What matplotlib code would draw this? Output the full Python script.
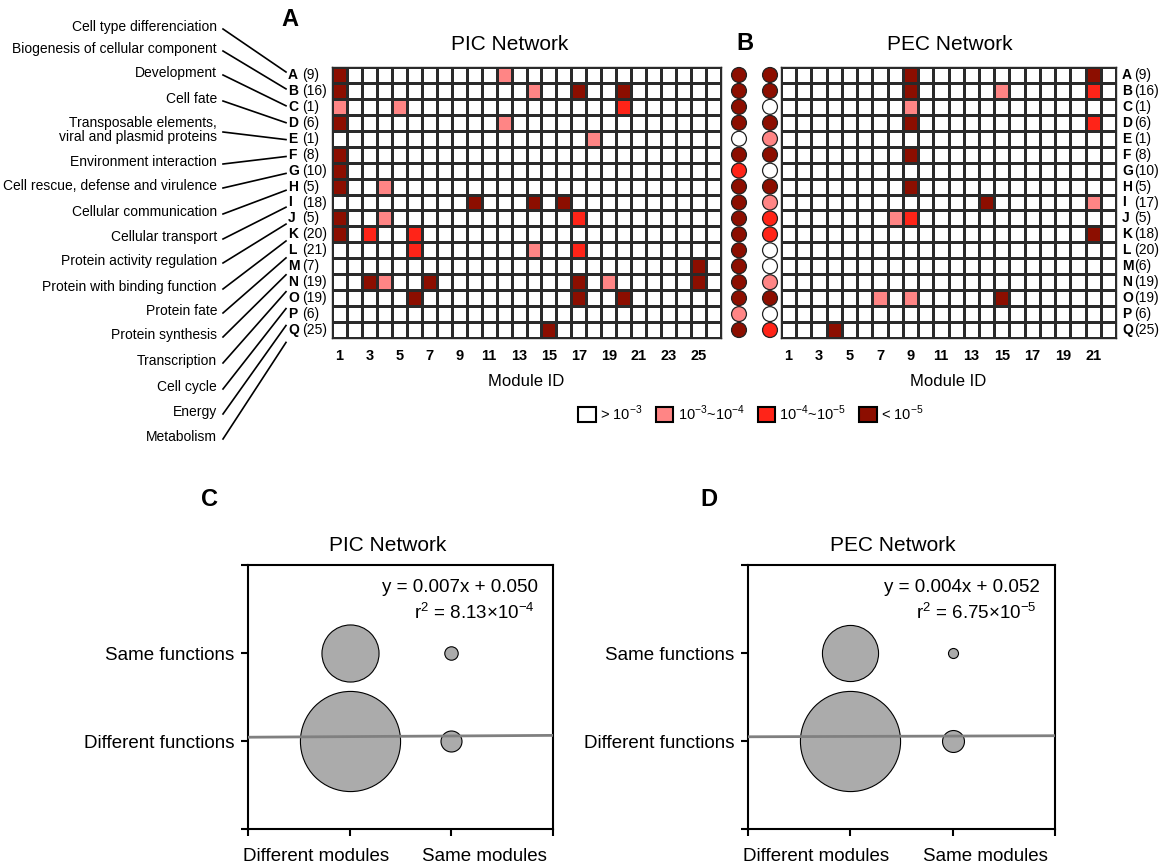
import numpy as np
import matplotlib
matplotlib.use("Agg")
import matplotlib.pyplot as plt
from matplotlib.colors import ListedColormap, BoundaryNorm
from matplotlib.patches import Patch
from matplotlib import font_manager

plt.rcParams['font.family'] = ['Liberation Sans', 'DejaVu Sans']
plt.rcParams['mathtext.fontset'] = 'custom'
plt.rcParams['mathtext.rm'] = 'Liberation Sans'
plt.rcParams['mathtext.bf'] = 'Liberation Sans:bold'

# ---- data ----
row_ids = list("ABCDEFGHIJKLMNOPQ")
categories = ["Cell type differenciation", "Biogenesis of cellular component", "Development",
              "Cell fate", "Transposable elements,\nviral and plasmid proteins",
              "Environment interaction", "Cell rescue, defense and virulence",
              "Cellular communication", "Cellular transport", "Protein activity regulation",
              "Protein with binding function", "Protein fate", "Protein synthesis",
              "Transcription", "Cell cycle", "Energy", "Metabolism"]
pic_sizes = [9, 16, 1, 6, 1, 8, 10, 5, 18, 5, 20, 21, 7, 19, 19, 6, 25]
pec_sizes = [9, 16, 1, 6, 1, 8, 10, 5, 17, 5, 18, 20, 6, 19, 19, 6, 25]
n_pic_modules = 26
n_pec_modules = 22

# p-value level: 0 > 1e-3, 1 1e-3~1e-4, 2 1e-4~1e-5, 3 < 1e-5
pic_cells = [("A", 1, 3), ("A", 12, 1),
             ("B", 1, 3), ("B", 14, 1), ("B", 17, 3), ("B", 20, 3),
             ("C", 1, 1), ("C", 5, 1), ("C", 20, 2),
             ("D", 1, 3), ("D", 12, 1),
             ("E", 18, 1),
             ("F", 1, 3),
             ("G", 1, 3),
             ("H", 1, 3), ("H", 4, 1),
             ("I", 10, 3), ("I", 14, 3), ("I", 16, 3),
             ("J", 1, 3), ("J", 4, 1), ("J", 17, 2),
             ("K", 1, 3), ("K", 3, 2), ("K", 6, 2),
             ("L", 6, 2), ("L", 14, 1), ("L", 17, 2),
             ("M", 25, 3),
             ("N", 3, 3), ("N", 4, 1), ("N", 7, 3), ("N", 17, 3), ("N", 19, 1), ("N", 25, 3),
             ("O", 6, 3), ("O", 17, 3), ("O", 20, 3),
             ("Q", 15, 3)]
pec_cells = [("A", 9, 3), ("A", 21, 3),
             ("B", 9, 3), ("B", 15, 1), ("B", 21, 2),
             ("C", 9, 1),
             ("D", 9, 3), ("D", 21, 2),
             ("F", 9, 3),
             ("H", 9, 3),
             ("I", 14, 3), ("I", 21, 1),
             ("J", 8, 1), ("J", 9, 2),
             ("K", 21, 3),
             ("O", 7, 1), ("O", 9, 1), ("O", 15, 3),
             ("Q", 4, 3)]
pic_overall = [3, 3, 3, 3, 0, 3, 2, 3, 3, 3, 3, 3, 3, 3, 3, 1, 3]
pec_overall = [3, 3, 0, 3, 1, 3, 0, 3, 1, 2, 2, 0, 0, 1, 3, 0, 2]

legend_labels = [r'> 10$^{-3}$', r'10$^{-3}$~10$^{-4}$', r'10$^{-4}$~10$^{-5}$', r'< 10$^{-5}$']

module_cats = ["Different modules", "Same modules"]
function_cats = ["Different functions", "Same functions"]
# relative share of pairs: rows = functions (different, same), cols = modules (different, same)
pic_pairs = [[1.0, 0.044], [0.325, 0.018]]
pec_pairs = [[1.0, 0.048], [0.314, 0.010]]
pic_fit = (0.007, 0.050, "8.13", "-4")
pec_fit = (0.004, 0.052, "6.75", "-5")

# ---- layout helpers ----
W, H = 1171, 868
level_colors = ['#FFFFFF', '#FF8585', '#FF2418', '#8C0E00']
cmap = ListedColormap(level_colors)
norm = BoundaryNorm([-0.5, 0.5, 1.5, 2.5, 3.5], 4)

# narrow face for the category names if it is there
installed = {f.name for f in font_manager.fontManager.ttflist}
if 'Liberation Sans Narrow' in installed:
    cat_family, cat_size = 'Liberation Sans Narrow', 12
else:
    cat_family, cat_size = 'Liberation Sans', 10


def px_rect(x0, y0, x1, y1):
    return [x0 / W, 1 - y1 / H, (x1 - x0) / W, (y1 - y0) / H]


def build_matrix(cells, ncols):
    m = np.zeros((len(row_ids), ncols))
    for r, c, lev in cells:
        m[row_ids.index(r), c - 1] = lev
    return m


fig = plt.figure(figsize=(W / 100, H / 100), dpi=100)

# overlay in pixel coords for annotations
ov = fig.add_axes([0, 0, 1, 1])
ov.set_xlim(0, W)
ov.set_ylim(H, 0)
ov.axis('off')


def heat_panel(rect, cells, ncols, title, title_x):
    ax = fig.add_axes(rect)
    m = build_matrix(cells, ncols)
    ax.pcolormesh(np.arange(ncols + 1) + 0.5, np.arange(len(row_ids) + 1) - 0.5, m,
                  cmap=cmap, norm=norm, edgecolors='#2a2a2a', linewidth=0.9)
    ax.set_xlim(0.5, ncols + 0.5)
    ax.set_ylim(len(row_ids) - 0.5, -0.5)
    ax.set_xticks(range(1, ncols, 2))
    ax.tick_params(axis='x', length=0, pad=8, labelsize=10.5)
    for t in ax.get_xticklabels():
        t.set_fontweight('bold')
    ax.set_yticks([])
    for s in ax.spines.values():
        s.set_linewidth(1.0)
        s.set_color('#2a2a2a')
    ax.set_title(title, fontsize=15, pad=12, x=title_x)
    ax.set_xlabel("Module ID", fontsize=12, labelpad=8)
    return ax


ax_a = heat_panel(px_rect(332, 67, 721, 338), pic_cells, n_pic_modules, "PIC Network", 0.458)
ax_b = heat_panel(px_rect(781, 67, 1116, 338), pec_cells, n_pec_modules, "PEC Network", 0.505)


def circle_column(x_center, levels):
    ax = fig.add_axes(px_rect(x_center - 10, 67, x_center + 10, 338))
    ys = np.arange(len(levels))
    ax.scatter(np.zeros(len(levels)), ys, s=115, c=[level_colors[l] for l in levels],
               edgecolors='#222222', linewidths=0.9, clip_on=False)
    ax.set_xlim(-1, 1)
    ax.set_ylim(len(levels) - 0.5, -0.5)
    ax.axis('off')


circle_column(739, pic_overall)
circle_column(770, pec_overall)

# row labels
row_px = 67 + (np.arange(len(row_ids)) + 0.5) * (338 - 67) / len(row_ids)
for i, rid in enumerate(row_ids):
    ov.text(288, row_px[i], rid, fontsize=10, fontweight='bold', va='center', ha='left')
    ov.text(302, row_px[i], "(%d)" % pic_sizes[i], fontsize=10, va='center', ha='left')
    ov.text(1122, row_px[i], rid, fontsize=10, fontweight='bold', va='center', ha='left')
    ov.text(1134, row_px[i], "(%d)" % pec_sizes[i], fontsize=10, va='center', ha='left')

# functional category names with connector lines
label_y = [27, 49, 73, 99, 130, 162, 186, 212, 237, 261, 287, 311, 335, 361, 387, 412, 437]
for i, name in enumerate(categories):
    ov.text(217, label_y[i], name, fontsize=cat_size, family=cat_family, ha='right',
            va='center', linespacing=0.95)
    ov.plot([223, 286], [label_y[i] + 2, 72 + i * 16.9], color='black', lw=1.2)

# panel letters
for letter, x, y in [("A", 290, 20), ("B", 745, 44), ("C", 209, 500), ("D", 709, 500)]:
    ov.text(x, y, letter, fontsize=17, fontweight='bold', ha='center', va='center')

# legend
handles = [Patch(facecolor=c, edgecolor='black', linewidth=1.5) for c in level_colors]
fig.legend(handles, legend_labels, loc='center', bbox_to_anchor=(751 / W, 1 - 413 / H),
           ncol=4, frameon=False, fontsize=10.5, handlelength=1.2, handleheight=1.2,
           handletextpad=0.3, columnspacing=0.9)


def bubble_panel(rect, pairs, fit, title, title_x, label_x):
    ax = fig.add_axes(rect)
    pairs = np.array(pairs)
    for fi in range(2):
        for mi in range(2):
            ax.scatter(mi, fi, s=5200 * pairs[fi, mi], color='#ABABAB',
                       edgecolors='black', linewidths=0.8, zorder=2)
    xs = np.array([-1, 2])
    ax.plot(xs, fit[0] * xs + fit[1], color='#808080', lw=2.0, zorder=3)
    ax.set_xlim(-1, 2)
    ax.set_ylim(-1, 2)
    ax.set_xticks([-1, 0, 1, 2])
    ax.set_xticklabels([])
    ax.set_yticks([-1, 0, 1, 2])
    ax.set_yticklabels([''] + function_cats + [''])
    ax.tick_params(axis='x', length=5, width=1.5)
    ax.tick_params(axis='y', length=5, width=1.5, pad=5, labelsize=13.5)
    for s in ax.spines.values():
        s.set_linewidth(1.5)
    # module labels sit apart from their ticks in the original
    for lx, name in zip(label_x, module_cats):
        ax.annotate(name, xy=(lx, 0), xycoords='axes fraction', xytext=(0, -20),
                    textcoords='offset points', ha='center', va='center', fontsize=13.5)
    ax.set_title(title, fontsize=15, pad=10, x=title_x)
    ax.text(0.95, 0.915, "y = %.3fx + %.3f" % (fit[0], fit[1]), transform=ax.transAxes,
            ha='right', va='center', fontsize=13.5)
    ax.text(0.94, 0.82, r"r$^{2}$ = %s×10$^{%s}$" % (fit[2], fit[3]), transform=ax.transAxes,
            ha='right', va='center', fontsize=13.5)
    return ax


bubble_panel(px_rect(248, 565, 553, 829), pic_pairs, pic_fit, "PIC Network", 0.459, (0.223, 0.774))
bubble_panel(px_rect(748, 565, 1055, 829), pec_pairs, pec_fit, "PEC Network", 0.472, (0.223, 0.774))

fig.savefig("out.png", dpi=100)
